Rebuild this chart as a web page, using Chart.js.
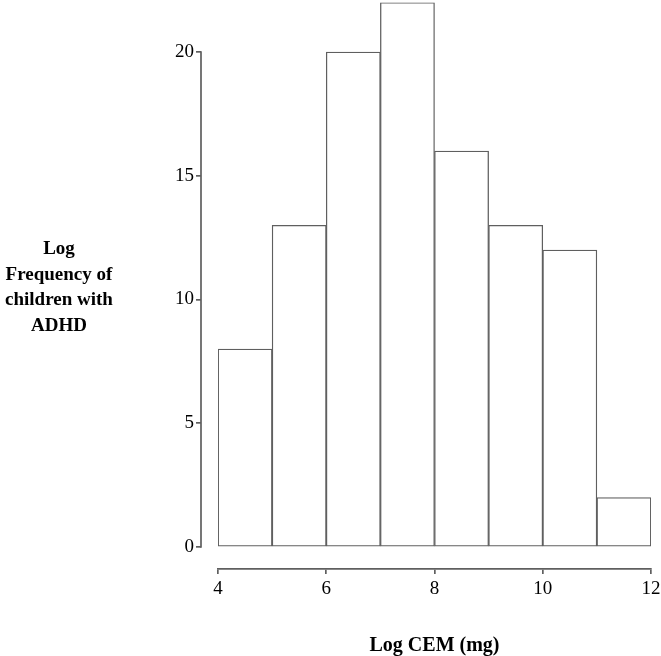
<!DOCTYPE html>
<html>
<head>
<meta charset="utf-8">
<script src="https://cdn.jsdelivr.net/npm/chart.js@4/dist/chart.umd.min.js"></script>
<style>
  html, body { margin: 0; padding: 0; background: #fff; }
  #wrap { position: relative; width: 661px; height: 656px; }
  #yTitle {
    position: absolute; left: 0; top: 235px; width: 118px;
    text-align: center; font: bold 19px "Liberation Serif", "Times New Roman", serif;
    line-height: 25.5px; color: #000;
  }
</style>
</head>
<body>
<div id="wrap">
  <canvas id="histChart"></canvas>
  <div id="yTitle">Log<br>Frequency of<br>children with<br>ADHD</div>
</div>
<script>
// histogram bins (Log CEM, mg) and counts
const BIN_EDGES = [4, 5, 6, 7, 8, 9, 10, 11, 12];
const FREQ = [8, 13, 20, 22, 16, 13, 12, 2];
const X_TICKS = [4, 6, 8, 10, 12];
const Y_TICKS = [0, 5, 10, 15, 20];

const AXIS_COLOR = "#5f5f5f";
const LINE_W = 1.7;
const FONT = "'Liberation Serif', 'Times New Roman', serif";

// y axis line only runs over the tick range (0..20), not up to the tallest bar
const yAxisLine = {
  id: "yAxisLine",
  afterDraw(chart) {
    const y = chart.scales.y;
    const ctx = chart.ctx;
    ctx.save();
    ctx.strokeStyle = AXIS_COLOR;
    ctx.lineWidth = LINE_W;
    ctx.beginPath();
    ctx.moveTo(y.right, y.getPixelForValue(Y_TICKS[0]) + LINE_W / 2);
    ctx.lineTo(y.right, y.getPixelForValue(Y_TICKS[Y_TICKS.length - 1]) - LINE_W / 2);
    ctx.stroke();
    ctx.restore();
  },
};

const points = FREQ.map((v, i) => ({ x: (BIN_EDGES[i] + BIN_EDGES[i + 1]) / 2, y: v }));

new Chart(document.getElementById("histChart"), {
  type: "bar",
  data: {
    datasets: [{
      data: points,
      backgroundColor: "#ffffff",
      borderColor: AXIS_COLOR,
      borderWidth: 1.3,
      borderSkipped: false,
      barPercentage: 1,
      categoryPercentage: 1,
    }],
  },
  options: {
    responsive: true,
    maintainAspectRatio: false,
    animation: false,
    layout: { padding: { top: 2.5, right: 10, left: 0, bottom: 0 } },
    plugins: { legend: { display: false }, tooltip: { enabled: false } },
    scales: {
      x: {
        type: "linear",
        position: "bottom",
        weight: 1,
        min: BIN_EDGES[0],
        max: BIN_EDGES[BIN_EDGES.length - 1],
        offset: false,
        afterBuildTicks: (s) => { s.ticks = X_TICKS.map((v) => ({ value: v })); },
        afterFit: (s) => { s.height = 87; s.paddingLeft = 0; s.paddingRight = 0; },
        grid: { drawOnChartArea: false, offset: false, tickLength: 5, color: AXIS_COLOR, lineWidth: LINE_W },
        border: { display: true, color: AXIS_COLOR, width: LINE_W },
        ticks: { color: "#000", padding: 4, maxRotation: 0, font: { family: FONT, size: 19 } },
        title: {
          display: true,
          text: "Log CEM (mg)",
          color: "#000",
          font: { family: FONT, size: 20, weight: "bold", lineHeight: 1.0 },
          padding: { top: 0, bottom: 0 },
        },
      },
      xSpacer: {
        type: "linear",
        axis: "x",
        position: "bottom",
        weight: 0,
        afterFit: (s) => { s.height = 22; },
        grid: { display: false },
        border: { display: false },
        ticks: { display: false },
      },
      y: {
        type: "linear",
        position: "left",
        weight: 1,
        min: 0,
        max: 22,
        afterBuildTicks: (s) => { s.ticks = Y_TICKS.map((v) => ({ value: v })); },
        afterFit: (s) => { s.width = 201; s.paddingTop = 0; s.paddingBottom = 0; },
        grid: { drawOnChartArea: false, tickLength: 5, color: AXIS_COLOR, lineWidth: LINE_W },
        border: { display: false },
        ticks: { color: "#000", padding: 2, font: { family: FONT, size: 19 } },
      },
      ySpacer: {
        type: "linear",
        axis: "y",
        position: "left",
        weight: 0,
        afterFit: (s) => { s.width = 17; },
        grid: { display: false },
        border: { display: false },
        ticks: { display: false },
      },
    },
  },
  plugins: [yAxisLine],
});
</script>
</body>
</html>
